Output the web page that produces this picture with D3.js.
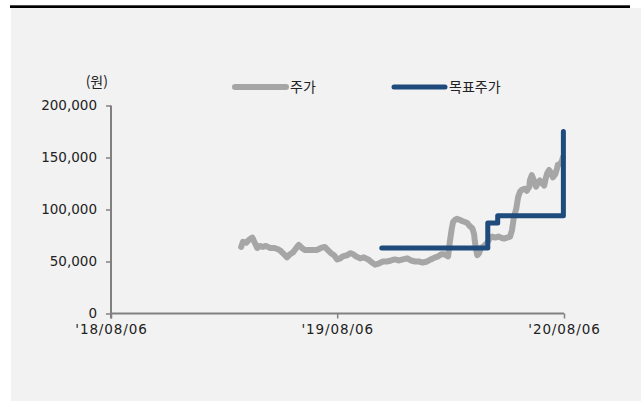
<!DOCTYPE html>
<html lang="ko">
<head>
<meta charset="utf-8">
<script src="https://cdn.jsdelivr.net/npm/d3@7"></script>
<style>
  html, body { margin: 0; padding: 0; background: #ffffff; }
  svg { display: block; }
  text { font-family: "DejaVu Sans", "Noto Sans CJK KR", sans-serif; fill: #222; }
  .kr { font-family: "Noto Sans CJK KR", sans-serif; }
</style>
</head>
<body>
<svg id="chart" width="643" height="401"></svg>
<script>
// Daily closing price (won)
const priceDates = [
  "2019-03-04","2019-03-07","2019-03-12","2019-03-17","2019-03-22","2019-03-26","2019-03-30",
  "2019-04-03","2019-04-08","2019-04-13","2019-04-20","2019-04-26","2019-05-02","2019-05-07",
  "2019-05-12","2019-05-17","2019-05-22","2019-05-27","2019-06-01","2019-06-05","2019-06-10",
  "2019-06-15","2019-06-22","2019-06-28","2019-07-04","2019-07-11","2019-07-17","2019-07-22",
  "2019-07-27","2019-08-01","2019-08-06","2019-08-11","2019-08-15","2019-08-22","2019-08-27",
  "2019-09-01","2019-09-05","2019-09-12","2019-09-18","2019-09-25","2019-10-01","2019-10-06",
  "2019-10-12","2019-10-19","2019-10-25","2019-11-01","2019-11-07","2019-11-14","2019-11-20",
  "2019-11-27","2019-12-03","2019-12-10","2019-12-16","2019-12-22","2019-12-29","2020-01-04",
  "2020-01-11","2020-01-16","2020-01-21","2020-01-25","2020-01-29","2020-02-01","2020-02-04",
  "2020-02-07","2020-02-09","2020-02-12","2020-02-15","2020-02-20","2020-02-23","2020-02-28",
  "2020-03-03","2020-03-07","2020-03-11","2020-03-14","2020-03-15","2020-03-17","2020-03-19",
  "2020-03-22","2020-03-25","2020-03-30","2020-04-04","2020-04-09","2020-04-12","2020-04-17",
  "2020-04-22","2020-04-26","2020-05-01","2020-05-06","2020-05-11","2020-05-14","2020-05-17",
  "2020-05-21","2020-05-24","2020-05-27","2020-05-30","2020-06-04","2020-06-07","2020-06-11",
  "2020-06-12","2020-06-15","2020-06-19","2020-06-22","2020-06-25","2020-06-28","2020-07-02",
  "2020-07-05","2020-07-08","2020-07-10","2020-07-13","2020-07-16","2020-07-19","2020-07-23",
  "2020-07-26","2020-07-27","2020-07-31","2020-08-03","2020-08-04"
];
const priceValues = [
  64000,69000,68000,71000,73000,68000,63000,
  65000,64000,65000,63000,63000,62000,60000,
  57000,54000,57000,59000,63000,66000,63000,
  61000,61000,61000,61000,63000,64000,61000,
  58000,56000,52000,53000,55000,56000,58000,
  57000,55000,53000,54000,52000,49000,47000,
  48000,50000,50000,51000,52000,51000,52000,
  53000,51000,50000,50000,49000,50000,52000,
  54000,55000,57000,57000,56000,55000,70000,
  82000,88000,90000,91000,90000,89000,88000,
  87000,84000,82000,76000,70000,62000,56000,
  58000,63000,65000,68000,73000,74000,73000,
  74000,73000,72000,73000,74000,80000,92000,
  101000,112000,117000,119000,120000,118000,122000,
  128000,133000,127000,122000,126000,128000,125000,
  123000,131000,135000,138000,135000,131000,134000,
  140000,143000,144000,147000,150000
];

// Analyst target price (won), effective from each date
const targetDates  = ["2019-10-17","2020-04-05","2020-04-21","2020-08-05"];
const targetValues = [63000, 87000, 94000, 175000];

const xTickLabels = ["'18/08/06", "'19/08/06", "'20/08/06"];
const xTickDates  = ["2018-08-06", "2019-08-06", "2020-08-06"];
const yTicks      = [0, 50000, 100000, 150000, 200000];
const seriesNames = ["주가", "목표주가"];
const unitLabel   = "(원)";

const parse = d3.utcParse("%Y-%m-%d");
const price  = priceDates.map((d, i) => ({ date: parse(d), value: priceValues[i] }));
const target = targetDates.map((d, i) => ({ date: parse(d), value: targetValues[i] }));

const svg = d3.select("#chart");
const W = 643, H = 401;
const plotLeft = 111, plotRight = 564, plotTop = 105.5, plotBottom = 313.5;
const axisColor = "#808080";
const priceColor = "#a6a6a6";
const targetColor = "#1f4a7c";

// panel background and top rule
svg.append("rect").attr("x", 11).attr("y", 8).attr("width", 630).attr("height", H - 8).attr("fill", "#f2f2f2");
svg.append("rect").attr("x", 10).attr("y", 5.3).attr("width", 620).attr("height", 2.7).attr("fill", "#000");

const x = d3.scaleUtc()
  .domain([parse(xTickDates[0]), parse(xTickDates[xTickDates.length - 1])])
  .range([plotLeft, plotRight]);
const y = d3.scaleLinear().domain([0, 200000]).range([plotBottom, plotTop]);

// y axis
const yAxis = svg.append("g")
  .attr("transform", `translate(${plotLeft},0)`)
  .call(d3.axisLeft(y).tickValues(yTicks).tickSize(5).tickPadding(9)
    .tickFormat(d3.format(",")));
yAxis.select(".domain").attr("stroke", axisColor).attr("stroke-width", 2)
  .attr("d", `M0,${plotTop}V${plotBottom + 5}`);
yAxis.selectAll(".tick line").attr("stroke", axisColor).attr("stroke-width", 1.5);
yAxis.selectAll(".tick text").attr("font-size", 13.5).attr("fill", "#222")
  .attr("font-family", "DejaVu Sans, sans-serif");

// x axis
const xAxis = svg.append("g")
  .attr("transform", `translate(0,${plotBottom})`)
  .call(d3.axisBottom(x).tickValues(xTickDates.map(parse)).tickSize(5).tickPadding(6)
    .tickFormat((d, i) => xTickLabels[i]));
xAxis.select(".domain").attr("stroke", axisColor).attr("stroke-width", 2)
  .attr("d", `M${plotLeft},0H${plotRight}`);
xAxis.selectAll(".tick line").attr("stroke", axisColor).attr("stroke-width", 1.5);
xAxis.selectAll(".tick text").attr("font-size", 13.5).attr("fill", "#222")
  .attr("letter-spacing", "0.9px")
  .attr("font-family", "DejaVu Sans, sans-serif");

// unit label
svg.append("text").attr("class", "kr").attr("x", 108).attr("y", 87)
  .attr("text-anchor", "end").attr("font-size", 14).text(unitLabel);

// price line
const line = d3.line().x(d => x(d.date)).y(d => y(d.value)).curve(d3.curveLinear);
svg.append("path").datum(price)
  .attr("d", line)
  .attr("fill", "none").attr("stroke", priceColor).attr("stroke-width", 6)
  .attr("stroke-linejoin", "round").attr("stroke-linecap", "round");

// target price step line
const step = d3.line().x(d => x(d.date)).y(d => y(d.value)).curve(d3.curveStepAfter);
svg.append("path").datum(target)
  .attr("d", step)
  .attr("fill", "none").attr("stroke", targetColor).attr("stroke-width", 5)
  .attr("stroke-linejoin", "round").attr("stroke-linecap", "round");

// legend
const legend = [
  { name: seriesNames[0], color: priceColor, w: 6, x0: 235, x1: 286, tx: 290 },
  { name: seriesNames[1], color: targetColor, w: 5, x0: 394, x1: 445, tx: 449 }
];
legend.forEach(l => {
  svg.append("line").attr("x1", l.x0).attr("x2", l.x1).attr("y1", 87).attr("y2", 87)
    .attr("stroke", l.color).attr("stroke-width", l.w).attr("stroke-linecap", "round");
  svg.append("text").attr("class", "kr").attr("x", l.tx).attr("y", 92)
    .attr("font-size", 14).text(l.name);
});
</script>
</body>
</html>
